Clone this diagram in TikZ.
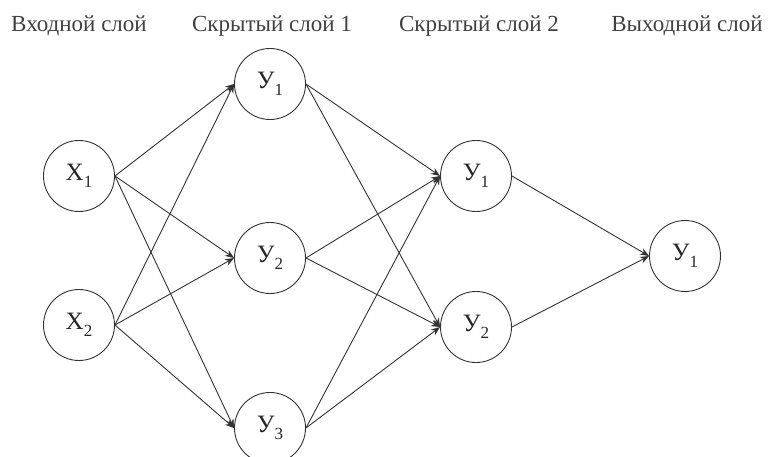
\documentclass[tikz,border=0pt]{standalone}
\usepackage{fontspec}
\setmainfont{Liberation Serif}
\usetikzlibrary{arrows.meta}
\newcommand{\nsub}[1]{\raisebox{-0.3em}{\fontsize{17}{17}\selectfont #1}}
\begin{document}
\begin{tikzpicture}[x=1pt,y=-1pt,
  neuron/.style={draw=black!80,line width=0.9pt,circle,minimum size=71pt,inner sep=0pt,font=\fontsize{25}{26}\selectfont,text=black!85},
  layertitle/.style={font=\fontsize{23}{24}\selectfont,text=black!75,anchor=base},
  conn/.style={draw=black!80,line width=0.9pt,-{Stealth[length=9pt,width=7pt]}}]
\useasboundingbox (0,0) rectangle (768,457);
\clip (0,0) rectangle (768,457);
\node[layertitle] (t0) at (79,32) {Входной слой};
\node[layertitle] (t1) at (272,32) {Скрытый слой 1};
\node[layertitle] (t2) at (479,32) {Скрытый слой 2};
\node[layertitle] (t3) at (687,32) {Выходной слой};
\node[neuron] (x1) at (79,176) {X\nsub{1}};
\node[neuron] (x2) at (79,325) {X\nsub{2}};
\node[neuron] (a1) at (270,84) {У\nsub{1}};
\node[neuron] (a2) at (270,258) {У\nsub{2}};
\node[neuron] (a3) at (270,428) {У\nsub{3}};
\node[neuron] (b1) at (476,176) {У\nsub{1}};
\node[neuron] (b2) at (476,327) {У\nsub{2}};
\node[neuron] (c1) at (685,256) {У\nsub{1}};
\foreach \s in {x1,x2} \foreach \t in {a1,a2,a3} \draw[conn] (\s.east) -- (\t.west);
\foreach \s in {a1,a2,a3} \foreach \t in {b1,b2} \draw[conn] (\s.east) -- (\t.west);
\foreach \s in {b1,b2} \draw[conn] (\s.east) -- (c1.west);
\end{tikzpicture}
\end{document}
